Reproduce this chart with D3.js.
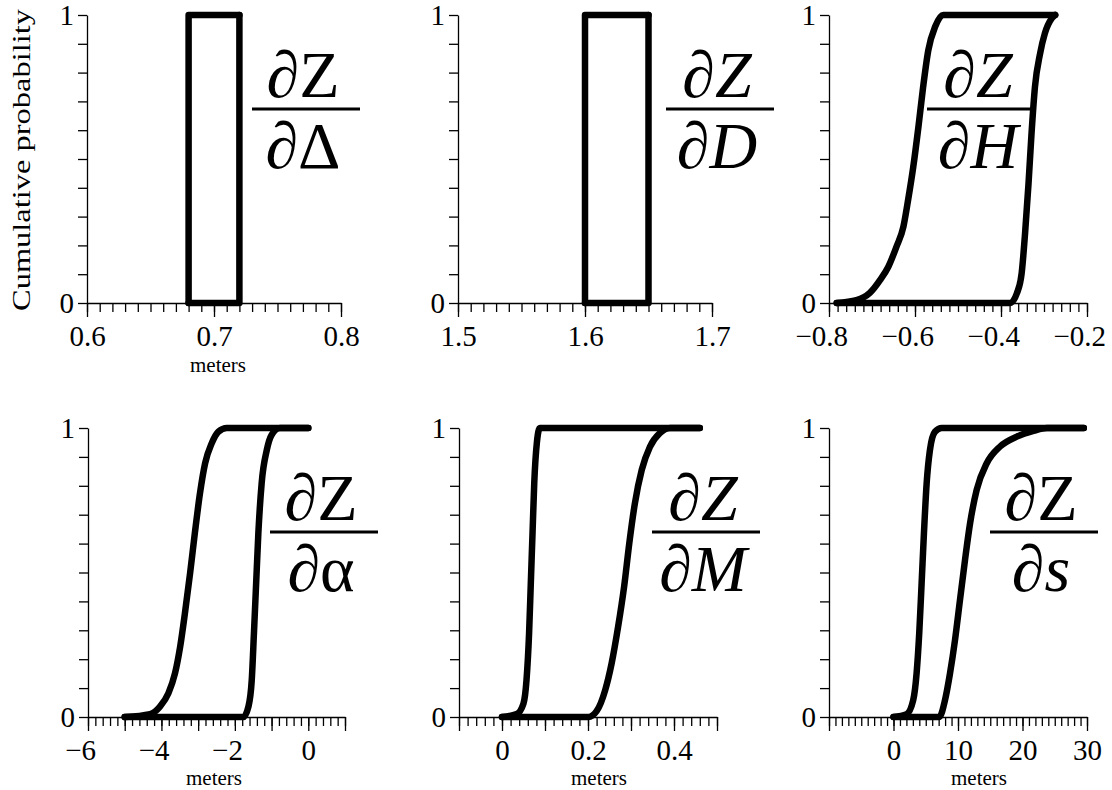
<!DOCTYPE html>
<html>
<head>
<meta charset="utf-8">
<script src="https://cdn.jsdelivr.net/npm/d3@7"></script>
<style>
  html, body { margin: 0; padding: 0; background: #fff; }
</style>
</head>
<body>
<svg id="chart" width="1112" height="790"></svg>
<script>
// ---- Bounding CDFs for each sensitivity (x in meters, cumulative probability) ----
const deltaLeft  = [[0.68, 0], [0.68, 1], [0.72, 1]];
const deltaRight = [[0.68, 0], [0.72, 0], [0.72, 1]];

const dLeft  = [[1.60, 0], [1.60, 1], [1.65, 1]];
const dRight = [[1.60, 0], [1.65, 0], [1.65, 1]];

const hLeft  = [[-0.782, 0], [-0.736, 0.01], [-0.705, 0.035], [-0.681, 0.08], [-0.662, 0.126],
                [-0.643, 0.196], [-0.627, 0.265], [-0.616, 0.358], [-0.604, 0.473], [-0.592, 0.612],
                [-0.581, 0.751], [-0.569, 0.878], [-0.553, 0.96], [-0.534, 1], [-0.274, 1]];
const hRight = [[-0.782, 0], [-0.379, 0], [-0.363, 0.034], [-0.352, 0.103], [-0.344, 0.242],
                [-0.336, 0.415], [-0.329, 0.589], [-0.321, 0.751], [-0.309, 0.867], [-0.298, 0.936],
                [-0.282, 0.988], [-0.274, 1]];

const alphaLeft  = [[-5, 0], [-4.31, 0.01], [-4.04, 0.036], [-3.81, 0.082], [-3.63, 0.151],
                    [-3.49, 0.243], [-3.36, 0.359], [-3.22, 0.497], [-3.09, 0.636], [-2.95, 0.774],
                    [-2.81, 0.878], [-2.63, 0.947], [-2.45, 0.987], [-2.22, 1], [0, 1]];
const alphaRight = [[-5, 0], [-1.77, 0], [-1.63, 0.036], [-1.54, 0.128], [-1.48, 0.29],
                    [-1.42, 0.463], [-1.36, 0.636], [-1.27, 0.809], [-1.13, 0.924], [-1.0, 0.976],
                    [-0.77, 1], [0, 1]];

const mLeft  = [[0, 0], [0.034, 0.01], [0.05, 0.047], [0.057, 0.128], [0.063, 0.29], [0.067, 0.463],
                [0.071, 0.636], [0.075, 0.809], [0.081, 0.948], [0.088, 1], [0.46, 1]];
const mRight = [[0, 0], [0.201, 0], [0.22, 0.02], [0.24, 0.093], [0.255, 0.186], [0.27, 0.312],
                [0.284, 0.451], [0.296, 0.601], [0.309, 0.739], [0.325, 0.855], [0.344, 0.935],
                [0.367, 0.982], [0.391, 1], [0.46, 1]];

const sLeft  = [[0, 0], [2.03, 0.01], [3.06, 0.059], [3.58, 0.151], [3.99, 0.29], [4.36, 0.463],
                [4.72, 0.636], [5.14, 0.809], [5.65, 0.924], [6.43, 0.987], [7.47, 1], [29.5, 1]];
const sRight = [[0, 0], [7.1, 0], [7.99, 0.059], [8.76, 0.151], [9.54, 0.267], [10.31, 0.405],
                [11.09, 0.544], [11.87, 0.67], [12.9, 0.786], [14.46, 0.878], [16.53, 0.936],
                [19.12, 0.97], [21.71, 0.99], [23.79, 1], [29.5, 1]];

// ---- Axes: domains, tick spacing and labelled ticks ----
const xDomains   = [[0.6, 0.8], [1.5, 1.7], [-0.8, -0.2], [-6, 1], [-0.1, 0.5], [-10, 30]];
const minorSteps = [0.01, 0.01, 0.02, 0.2, 0.02, 1];
const majorSteps = [0.1, 0.1, 0.2, 1, 0.1, 10];
const tickLabels = [[0.6, 0.7, 0.8], [1.5, 1.6, 1.7], [-0.8, -0.6, -0.4, -0.2],
                    [-6, -4, -2, 0], [0, 0.2, 0.4], [0, 10, 20, 30]];
const yTicks = d3.range(11).map(i => i / 10);
const yLabelled = [0, 1];

// ---- Panel titles (partial derivative of Z) ----
const denominators = ["Δ", "D", "H", "α", "M", "s"];
const denomItalic  = [false, true, true, false, true, true];
const zItalic      = [false, true, true, false, true, false];
const unitLabel    = "meters";
const yTitle       = "Cumulative probability";

const bounds = [
  [deltaLeft, deltaRight], [dLeft, dRight], [hLeft, hRight],
  [alphaLeft, alphaRight], [mLeft, mRight], [sLeft, sRight]
];

// ---- Layout of the six panels (pixels) ----
const layout = [
  { x0: 87,  x1: 341,  yTop: 15,  yBot: 303, fracX: 306,  fracY: 109, unitX: 218, unitY: 372, smooth: false },
  { x0: 458, x1: 712,  yTop: 15,  yBot: 303, fracX: 720,  fracY: 109, unitX: null, unitY: 0,  smooth: false },
  { x0: 829, x1: 1087, yTop: 15,  yBot: 303, fracX: 981,  fracY: 109, unitX: null, unitY: 0,  smooth: true },
  { x0: 88,  x1: 345,  yTop: 428, yBot: 717, fracX: 324,  fracY: 532, unitX: 214, unitY: 785, smooth: true },
  { x0: 459, x1: 717,  yTop: 428, yBot: 717, fracX: 706,  fracY: 532, unitX: 599, unitY: 785, smooth: true },
  { x0: 829, x1: 1087, yTop: 428, yBot: 717, fracX: 1044, fracY: 532, unitX: 979, unitY: 785, smooth: true }
];

const FONT = "Liberation Serif";
const svg = d3.select("#chart").attr("font-family", FONT);
const tickFont = 29;
const fmt = d3.format("~g");

function stepValues(domain, step) {
  const n = Math.round((domain[1] - domain[0]) / step);
  return d3.range(n + 1).map(i => +(domain[0] + i * step).toFixed(6));
}

function styleAxis(g) {
  g.attr("font-family", FONT).attr("font-size", tickFont);
  g.selectAll("line").attr("stroke", "#000").attr("stroke-width", 1.3);
  g.selectAll("path.domain").attr("stroke", "#000").attr("stroke-width", 1.3);
  g.selectAll("text").attr("fill", "#000");
}

layout.forEach((L, i) => {
  const x = d3.scaleLinear().domain(xDomains[i]).range([L.x0, L.x1]);
  const y = d3.scaleLinear().domain([0, 1]).range([L.yBot, L.yTop]);
  const g = svg.append("g");

  // x axis: minor ticks, major ticks with the axis line, labelled ticks
  const gMinor = g.append("g").attr("transform", `translate(0,${L.yBot})`)
    .call(d3.axisBottom(x).tickValues(stepValues(xDomains[i], minorSteps[i]))
      .tickSize(9).tickSizeOuter(0).tickFormat(""));
  gMinor.select(".domain").remove();
  styleAxis(gMinor);

  const gMajor = g.append("g").attr("transform", `translate(0,${L.yBot})`)
    .call(d3.axisBottom(x).tickValues(stepValues(xDomains[i], majorSteps[i]))
      .tickSize(14).tickSizeOuter(0).tickFormat(""));
  styleAxis(gMajor);

  const gLab = g.append("g").attr("transform", `translate(0,${L.yBot})`)
    .call(d3.axisBottom(x).tickValues(tickLabels[i]).tickSize(0).tickPadding(22).tickFormat(fmt));
  gLab.select(".domain").remove();
  styleAxis(gLab);
  // the minus sign hangs to the left of the centred number
  gLab.selectAll("text").attr("dx", d => d < 0 ? "-0.27em" : null);

  // y axis
  const gY = g.append("g").attr("transform", `translate(${L.x0},0)`)
    .call(d3.axisLeft(y).tickValues(yTicks).tickSize(9).tickSizeOuter(0).tickPadding(4)
      .tickFormat(d => yLabelled.includes(d) ? fmt(d) : ""));
  styleAxis(gY);
  gY.selectAll("text").attr("dy", "0.33em");

  // bounding CDFs
  const line = d3.line()
    .x(d => x(d[0])).y(d => y(d[1]))
    .curve(L.smooth ? d3.curveMonotoneX : d3.curveLinear);
  g.selectAll("path.bound").data(bounds[i]).enter().append("path")
    .attr("class", "bound")
    .attr("d", line)
    .attr("fill", "none")
    .attr("stroke", "#000")
    .attr("stroke-width", 6.5)
    .attr("stroke-linecap", "round")
    .attr("stroke-linejoin", "round");

  // partial derivative title as a fraction
  const fs = 66;
  const num = g.append("text").attr("x", L.fracX - 3).attr("y", L.fracY - 12)
    .attr("text-anchor", "middle").attr("font-size", fs);
  num.append("tspan").text("∂");
  num.append("tspan").text("Z").attr("font-style", zItalic[i] ? "italic" : "normal");
  g.append("line")
    .attr("x1", L.fracX - 54).attr("x2", L.fracX + 54)
    .attr("y1", L.fracY).attr("y2", L.fracY)
    .attr("stroke", "#000").attr("stroke-width", 3);
  const den = g.append("text").attr("x", L.fracX - 3).attr("y", L.fracY + 59)
    .attr("text-anchor", "middle").attr("font-size", fs);
  den.append("tspan").text("∂");
  den.append("tspan").text(denominators[i]).attr("font-style", denomItalic[i] ? "italic" : "normal");

  // unit label
  if (L.unitX !== null) {
    g.append("text").attr("x", L.unitX).attr("y", L.unitY)
      .attr("text-anchor", "middle").attr("font-size", 21).text(unitLabel);
  }
});

// shared y title
svg.append("text")
  .attr("transform", "translate(30,160) rotate(-90)")
  .attr("text-anchor", "middle")
  .attr("textLength", 302)
  .attr("lengthAdjust", "spacingAndGlyphs")
  .attr("font-size", 26)
  .text(yTitle);
</script>
</body>
</html>
